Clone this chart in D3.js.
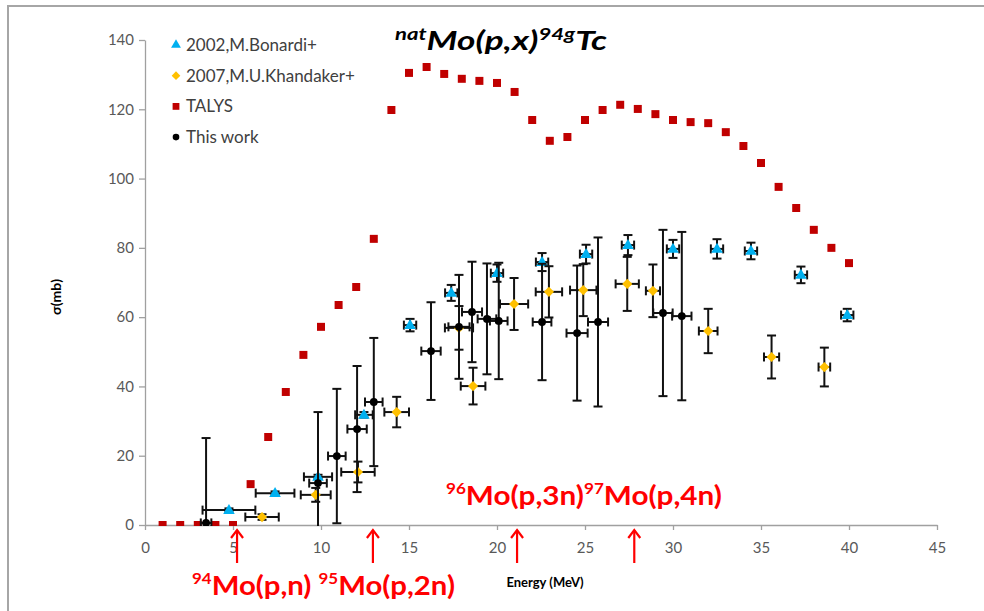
<!DOCTYPE html>
<html>
<head>
<meta charset="utf-8">
<script src="https://cdn.jsdelivr.net/npm/d3@7"></script>
<style>
body { margin: 0; background: #fff; }
text { font-family: Lato, "Open Sans", sans-serif; }
</style>
</head>
<body>
<svg id="chart" width="984" height="611"></svg>
<script>
// TALYS calculation
const talysE = [1, 2, 3, 4, 5, 6, 7, 8, 9, 10, 11, 12, 13, 14, 15, 16, 17, 18, 19, 20,
    21, 22, 23, 24, 25, 26, 27, 28, 29, 30, 31, 32, 33, 34, 35, 36, 37, 38, 39, 40];
const talysSigma = [0, 0, 0, 0, 0, 11.8, 25.4, 38.4, 49.1, 57.2, 63.5, 68.7, 82.6, 119.8, 130.5, 132.2, 130.2, 128.8, 128.2, 127.6,
    125.0, 116.9, 110.9, 112.0, 116.9, 119.8, 121.3, 120.1, 118.6, 116.9, 116.3, 116.0, 113.4, 109.4, 104.5, 97.6, 91.5, 85.2, 80.0, 75.6];

// 2002, M.Bonardi+
const bonardiE = [4.77, 7.39, 9.83, 12.44, 15.06, 17.4, 20.0, 22.56, 25.06, 27.44, 30.0, 32.5, 34.43, 37.27, 39.9];
const bonardiSigma = [4.3, 9.2, 13.9, 31.8, 57.7, 67.0, 72.7, 75.9, 78.2, 80.8, 79.7, 79.7, 79.1, 72.2, 60.6];
const bonardiDE = [1.5, 1.1, 0.8, 0.5, 0.35, 0.35, 0.35, 0.35, 0.35, 0.35, 0.35, 0.35, 0.35, 0.35, 0.35];
const bonardiDS = [0.5, 0.5, 0.6, 0.8, 1.8, 2.3, 2.5, 2.6, 2.7, 2.9, 2.6, 2.8, 2.4, 2.4, 1.8];

// 2007, M.U.Khandaker+
const khandakerE = [6.65, 9.7, 12.1, 14.3, 17.84, 18.64, 20.97, 22.95, 24.9, 27.4, 28.86, 32.0, 35.6, 38.6];
const khandakerSigma = [2.3, 8.7, 15.3, 32.6, 56.9, 40.1, 63.8, 67.3, 67.8, 69.6, 67.6, 56.0, 48.5, 45.6];
const khandakerDE = [0.95, 0.85, 0.95, 0.7, 0.8, 0.7, 0.8, 0.75, 0.75, 0.66, 0.4, 0.53, 0.43, 0.33];
const khandakerDS = [0.8, 2.0, 3.0, 4.4, 6.3, 5.3, 7.5, 7.4, 7.5, 7.8, 7.6, 6.4, 6.2, 5.6];

// This work
const workE = [3.47, 9.83, 10.9, 12.05, 13.0, 16.25, 17.84, 18.58, 19.43, 20.1, 22.56, 24.55, 25.74, 29.43, 30.5];
const workSigma = [0.6, 12.1, 19.9, 27.7, 35.5, 50.2, 57.2, 61.5, 59.5, 58.9, 58.6, 55.4, 58.6, 61.2, 60.3];
const workDE = [0.3, 0.5, 0.5, 0.55, 0.5, 0.55, 0.6, 0.57, 0.53, 0.5, 0.53, 0.6, 0.57, 0.55, 0.55];
const workDS = [24.5, 20.5, 19.4, 18.2, 18.5, 14.1, 15.0, 14.5, 16.0, 16.8, 16.8, 19.5, 24.4, 24.0, 24.3];

// reaction thresholds marked with arrows (MeV)
const thresholdE = [5.23, 12.95, 21.14, 27.8];

const xTicks = [0, 5, 10, 15, 20, 25, 30, 35, 40, 45];
const yTicks = [0, 20, 40, 60, 80, 100, 120, 140];

const svg = d3.select("#chart");
const x = d3.scaleLinear().domain([0, 45]).range([145, 937]);
const y = d3.scaleLinear().domain([0, 140]).range([525, 40]);

// outer frame
svg.append("rect")
    .attr("x", 8).attr("y", 6).attr("width", 1000).attr("height", 700)
    .attr("fill", "none").attr("stroke", "#a6a6a6").attr("stroke-width", 2);

svg.append("defs").append("clipPath").attr("id", "plotClip")
    .append("rect").attr("x", 100).attr("y", 20).attr("width", 860).attr("height", 506);

// axes
const yAxis = svg.append("g")
    .attr("transform", "translate(145,0)")
    .call(d3.axisLeft(y).tickValues(yTicks).tickSize(6).tickPadding(5).tickSizeOuter(0));
const xAxis = svg.append("g")
    .attr("transform", "translate(0,525)")
    .call(d3.axisBottom(x).tickValues(xTicks).tickSize(5).tickPadding(12).tickSizeOuter(0));
[xAxis, yAxis].forEach(g => {
    g.select(".domain").attr("stroke", "#a0a0a0").attr("stroke-width", 1.3);
    g.selectAll(".tick line").attr("stroke", "#a0a0a0").attr("stroke-width", 1.3);
    g.selectAll(".tick text").attr("fill", "#595959").style("font-size", "15px")
        .style("font-family", "Lato, sans-serif");
});

// axis titles
svg.append("text")
    .attr("transform", "translate(61,297) rotate(-90)")
    .attr("text-anchor", "middle")
    .style("font-size", "14px").style("font-weight", "bold")
    .text("σ(mb)");
svg.append("text")
    .attr("x", 545).attr("y", 587)
    .attr("text-anchor", "middle")
    .style("font-size", "13px").style("font-weight", "bold")
    .text("Energy (MeV)");

// chart title
const title = svg.append("text")
    .attr("x", 395).attr("y", 50)
    .style("font-weight", "bold").style("font-style", "italic")
    .attr("textLength", 212).attr("lengthAdjust", "spacingAndGlyphs");
title.append("tspan").style("font-size", "17px").attr("dy", -10).text("nat");
title.append("tspan").style("font-size", "27px").attr("dy", 10).text("Mo(p,x)");
title.append("tspan").style("font-size", "17px").attr("dy", -10).text("94g");
title.append("tspan").style("font-size", "27px").attr("dy", 10).text("Tc");

const plot = svg.append("g").attr("clip-path", "url(#plotClip)");

function errorBars(es, ss, des, dss) {
    const g = plot.append("g").attr("stroke", "#111").attr("stroke-width", 2);
    const cap = 4.5;
    es.forEach((e, i) => {
        const s = ss[i], de = des[i], ds = dss[i];
        const x0 = x(e), y0 = y(s);
        // vertical
        g.append("line").attr("x1", x0).attr("x2", x0).attr("y1", y(s - ds)).attr("y2", y(s + ds));
        g.append("line").attr("x1", x0 - cap).attr("x2", x0 + cap).attr("y1", y(s + ds)).attr("y2", y(s + ds));
        g.append("line").attr("x1", x0 - cap).attr("x2", x0 + cap).attr("y1", y(s - ds)).attr("y2", y(s - ds));
        // horizontal
        g.append("line").attr("x1", x(e - de)).attr("x2", x(e + de)).attr("y1", y0).attr("y2", y0);
        g.append("line").attr("x1", x(e - de)).attr("x2", x(e - de)).attr("y1", y0 - cap).attr("y2", y0 + cap);
        g.append("line").attr("x1", x(e + de)).attr("x2", x(e + de)).attr("y1", y0 - cap).attr("y2", y0 + cap);
    });
}

const sym = {
    triangle: { path: d3.symbol().type(d3.symbolTriangle).size(58)(), rot: 0 },
    diamond: { path: d3.symbol().type(d3.symbolSquare).size(52)(), rot: 45 },
    square: { path: d3.symbol().type(d3.symbolSquare).size(64)(), rot: 0 },
    circle: { path: d3.symbol().type(d3.symbolCircle).size(48)(), rot: 0 }
};

function markers(es, ss, s, color, dy) {
    plot.append("g").selectAll("path")
        .data(es)
        .enter()
        .append("path")
        .attr("d", s.path)
        .attr("fill", color)
        .attr("transform", (d, i) => `translate(${x(d)},${y(ss[i]) + (dy || 0)}) rotate(${s.rot})`);
}

// Bonardi
errorBars(bonardiE, bonardiSigma, bonardiDE, bonardiDS);
markers(bonardiE, bonardiSigma, sym.triangle, "#00b0f0", 0.5);
// Khandaker
errorBars(khandakerE, khandakerSigma, khandakerDE, khandakerDS);
markers(khandakerE, khandakerSigma, sym.diamond, "#ffc000");
// TALYS
markers(talysE, talysSigma, sym.square, "#c00000");
// This work
errorBars(workE, workSigma, workDE, workDS);
markers(workE, workSigma, sym.circle, "#000000");

// legend
const legendItems = [
    { name: "2002,M.Bonardi+", s: sym.triangle, color: "#00b0f0" },
    { name: "2007,M.U.Khandaker+", s: sym.diamond, color: "#ffc000" },
    { name: "TALYS", s: sym.square, color: "#c00000" },
    { name: "This work", s: sym.circle, color: "#000000" }
];
const legend = svg.append("g");
legendItems.forEach((d, i) => {
    const ly = 45 + i * 30.7;
    legend.append("path").attr("d", d.s.path).attr("fill", d.color)
        .attr("transform", `translate(176,${ly}) rotate(${d.s.rot}) scale(0.85)`);
    legend.append("text").attr("x", 186).attr("y", ly + 6)
        .attr("fill", "#404040").style("font-size", "17px")
        .text(d.name);
});

// threshold arrows
const arrows = svg.append("g").attr("stroke", "#ff0000").attr("stroke-width", 2.2).attr("fill", "none");
thresholdE.forEach(e => {
    const ax = x(e);
    arrows.append("line").attr("x1", ax).attr("x2", ax).attr("y1", 530).attr("y2", 563);
    arrows.append("path").attr("d", `M${ax - 6},${538} L${ax},${530} L${ax + 6},${538}`);
});

// reaction labels
function reactionLabel(parts, lx, ly, width) {
    const t = svg.append("text").attr("x", lx).attr("y", ly)
        .attr("fill", "#ff0000").style("font-weight", "bold")
        .attr("textLength", width).attr("lengthAdjust", "spacingAndGlyphs");
    parts.forEach(p => {
        t.append("tspan")
            .style("font-size", p.sup ? "15px" : "26px")
            .attr("dy", p.sup ? -11 : 11)
            .text(p.text);
    });
    return t;
}
reactionLabel([
    { text: "94", sup: true }, { text: "Mo(p,n) " },
    { text: "95", sup: true }, { text: "Mo(p,2n)" }
], 192, 595, 263);
reactionLabel([
    { text: "96", sup: true }, { text: "Mo(p,3n)" },
    { text: "97", sup: true }, { text: "Mo(p,4n)" }
], 446, 505, 276);
</script>
</body>
</html>
